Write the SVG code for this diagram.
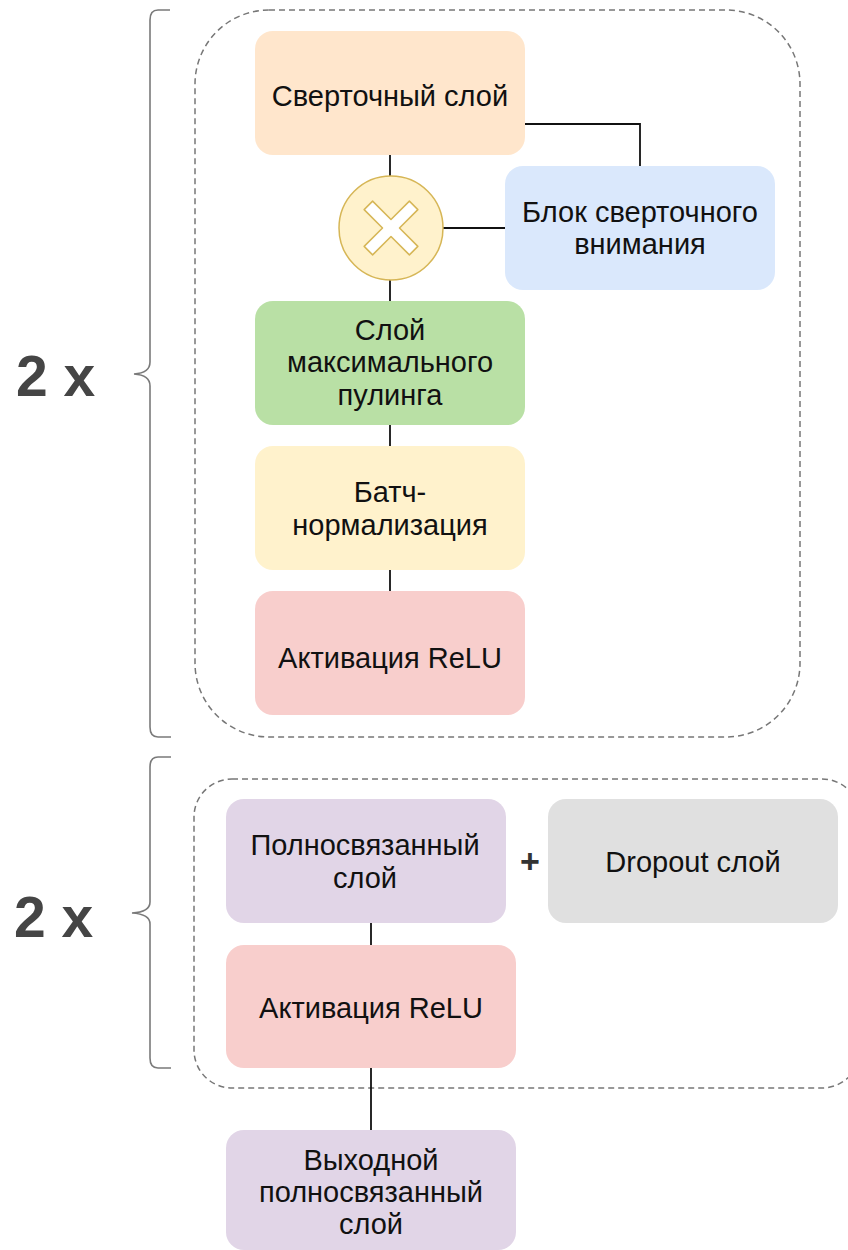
<svg xmlns="http://www.w3.org/2000/svg" width="848" height="1250" viewBox="0 0 848 1250">
<style>
.box{stroke:none}
.lbl{font-family:"Liberation Sans",Arial,sans-serif;font-size:29px;fill:#111;text-anchor:middle}
.rep{font-family:"Liberation Sans",Arial,sans-serif;font-size:57px;font-weight:bold;fill:#454545}
.dash{fill:none;stroke:#777;stroke-width:1.5;stroke-dasharray:6 4}
.brace{fill:none;stroke:#7a7a7a;stroke-width:1.6}
.conn{fill:none;stroke:#111;stroke-width:1.8}
</style>
<rect width="848" height="1250" fill="#fff"/>
<g id="group1">
<rect class="dash" x="195" y="10" width="605" height="727" rx="74" ry="74"/>
<path class="brace" d="M170,10 H158 Q150,10 150,20 V362 Q150,373 134,374 Q150,375 150,386 V727 Q150,737 158,737 H171"/>
<text class="rep" x="16" y="396">2 x</text>
</g>
<g id="group2">
<rect class="dash" x="194" y="779" width="666" height="309" rx="38" ry="38"/>
<path class="brace" d="M171,757 H158 Q150,757 150,767 V902 Q150,912 132,913 Q150,914 150,924 V1058 Q150,1068 158,1068 H171"/>
<text class="rep" x="14" y="937">2 x</text>
</g>
<g id="connectors">
<line class="conn" x1="390" y1="155" x2="390" y2="176"/>
<line class="conn" x1="390" y1="279" x2="390" y2="301"/>
<line class="conn" x1="390" y1="425" x2="390" y2="446"/>
<line class="conn" x1="390" y1="570" x2="390" y2="591"/>
<polyline class="conn" points="525,124 640,124 640,166"/>
<line class="conn" x1="443" y1="228" x2="506" y2="228"/>
<line class="conn" x1="371" y1="923" x2="371" y2="945"/>
<line class="conn" x1="371" y1="1068" x2="371" y2="1130"/>
</g>
<g id="conv">
<rect class="box" x="255" y="31" width="270" height="124" rx="18" fill="#ffe6cc"/>
<text class="lbl" x="390" y="106">Сверточный слой</text>
</g>
<g id="attention">
<rect class="box" x="505" y="166" width="270" height="124" rx="18" fill="#dae8fc"/>
<text class="lbl" x="640" y="222">Блок сверточного</text>
<text class="lbl" x="640" y="254">внимания</text>
</g>
<g id="multiply">
<ellipse cx="391" cy="228" rx="52" ry="52" fill="#fff2cc" stroke="#d6b656" stroke-width="1.5"/>
<polygon transform="translate(391,228) rotate(45)" points="-6,-32 6,-32 6,-6 32,-6 32,6 6,6 6,32 -6,32 -6,6 -32,6 -32,-6 -6,-6" fill="#fff" stroke="#d6b656" stroke-width="1.5" stroke-linejoin="round"/>
</g>
<g id="maxpool">
<rect class="box" x="255" y="301" width="270" height="124" rx="18" fill="#b9e0a5"/>
<text class="lbl" x="390" y="340">Слой</text>
<text class="lbl" x="390" y="372">максимального</text>
<text class="lbl" x="390" y="405">пулинга</text>
</g>
<g id="batchnorm">
<rect class="box" x="255" y="446" width="270" height="124" rx="18" fill="#fff2cc"/>
<text class="lbl" x="390" y="502">Батч-</text>
<text class="lbl" x="390" y="535">нормализация</text>
</g>
<g id="relu1">
<rect class="box" x="255" y="591" width="270" height="124" rx="18" fill="#f8cecc"/>
<text class="lbl" x="390" y="668">Активация ReLU</text>
</g>
<g id="fc">
<rect class="box" x="226" y="799" width="280" height="124" rx="18" fill="#e1d5e7"/>
<text class="lbl" x="365" y="855">Полносвязанный</text>
<text class="lbl" x="365" y="888">слой</text>
</g>
<g id="plus">
<text x="530" y="873" style="font-family:'Liberation Sans',Arial,sans-serif;font-size:34px;font-weight:bold;fill:#333;text-anchor:middle">+</text>
</g>
<g id="dropout">
<rect class="box" x="548" y="799" width="290" height="124" rx="18" fill="#e0e0e0"/>
<text class="lbl" x="693" y="872">Dropout слой</text>
</g>
<g id="relu2">
<rect class="box" x="226" y="945" width="290" height="123" rx="18" fill="#f8cecc"/>
<text class="lbl" x="371" y="1018">Активация ReLU</text>
</g>
<g id="output">
<rect class="box" x="226" y="1130" width="290" height="120" rx="18" fill="#e1d5e7"/>
<text class="lbl" x="371" y="1170">Выходной</text>
<text class="lbl" x="371" y="1202">полносвязанный</text>
<text class="lbl" x="371" y="1234">слой</text>
</g>
</svg>
